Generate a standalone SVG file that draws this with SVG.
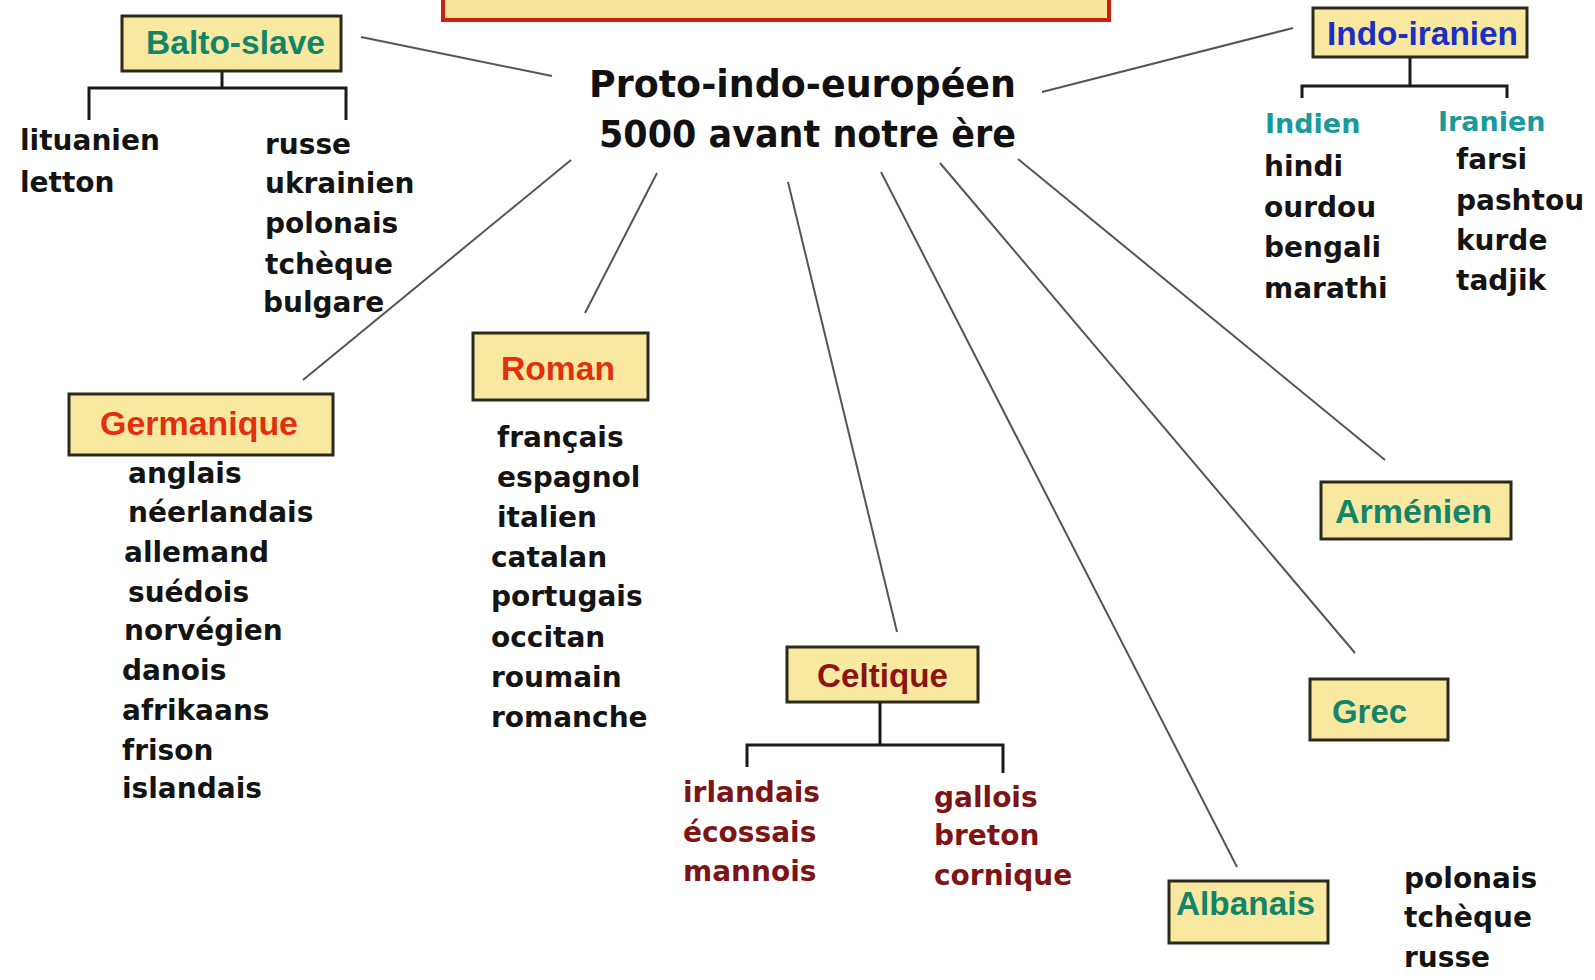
<svg xmlns="http://www.w3.org/2000/svg" width="1595" height="980" viewBox="0 0 1595 980">
<style>
.box{fill:#f8e8a0;stroke:#2b2a1c;stroke-width:3}
.lbl{font-family:"Liberation Sans",Arial,sans-serif;font-weight:bold;font-size:33px}
.teal{fill:#12846a}
.red{fill:#e2300e}
.dred{fill:#8a1414}
.blue{fill:#1b2fc4}
.item{font-family:"DejaVu Sans",Verdana,sans-serif;font-weight:bold;font-size:28px;fill:#141414}
.sub{font-family:"DejaVu Sans",Verdana,sans-serif;font-weight:bold;font-size:27px;fill:#1b9a9c}
.celt{fill:#7e1414}
.title{font-family:"DejaVu Sans",Verdana,sans-serif;font-weight:bold;font-size:37px;fill:#111}
.conn{stroke:#555;stroke-width:2;fill:none}
.br{stroke:#1a1a1a;stroke-width:3;fill:none}
</style>
<rect width="1595" height="980" fill="#fff"/>
<g id="title-box"><rect x="443" y="-10" width="666" height="30" fill="#f7e39a" stroke="#c9220c" stroke-width="4"/></g>
<g id="connectors">
<line class="conn" x1="361" y1="37" x2="552" y2="76"/>
<line class="conn" x1="1042" y1="92" x2="1293" y2="28"/>
<line class="conn" x1="571" y1="160" x2="303" y2="380"/>
<line class="conn" x1="657" y1="173" x2="585" y2="313"/>
<line class="conn" x1="788" y1="182" x2="897" y2="632"/>
<line class="conn" x1="881" y1="172" x2="1237" y2="867"/>
<line class="conn" x1="940" y1="163" x2="1355" y2="653"/>
<line class="conn" x1="1018" y1="159" x2="1385" y2="460"/>
<polyline class="br" points="222,71 222,88"/>
<polyline class="br" points="89,120 89,88 346,88 346,120"/>
<polyline class="br" points="1410,57 1410,86"/>
<polyline class="br" points="1302,98 1302,86 1507,86 1507,98"/>
<polyline class="br" points="880,702 880,745"/>
<polyline class="br" points="747,767 747,745 1003,745 1003,773"/>
</g>
<g id="root">
<text class="title" x="589" y="97" textLength="427" lengthAdjust="spacingAndGlyphs">Proto-indo-européen</text>
<text class="title" x="599" y="147" textLength="417" lengthAdjust="spacingAndGlyphs">5000 avant notre ère</text>
</g>
<g id="balto-slave">
<rect class="box" x="122" y="16" width="219" height="55"/>
<text class="lbl teal" x="146" y="54" textLength="179" lengthAdjust="spacingAndGlyphs">Balto-slave</text>
<text class="item" x="20" y="150">lituanien</text>
<text class="item" x="20" y="192">letton</text>
<text class="item" x="265" y="154">russe</text>
<text class="item" x="265" y="193">ukrainien</text>
<text class="item" x="265" y="233">polonais</text>
<text class="item" x="265" y="274">tchèque</text>
<text class="item" x="263" y="312">bulgare</text>
</g>
<g id="indo-iranien">
<rect class="box" x="1313" y="8" width="214" height="49"/>
<text class="lbl blue" x="1327" y="45" textLength="191" lengthAdjust="spacingAndGlyphs">Indo-iranien</text>
<text class="sub" x="1265" y="133">Indien</text>
<text class="sub" x="1438" y="131">Iranien</text>
<text class="item" x="1264" y="176">hindi</text>
<text class="item" x="1264" y="217">ourdou</text>
<text class="item" x="1264" y="257">bengali</text>
<text class="item" x="1264" y="298">marathi</text>
<text class="item" x="1456" y="169">farsi</text>
<text class="item" x="1456" y="210">pashtou</text>
<text class="item" x="1456" y="250">kurde</text>
<text class="item" x="1456" y="290">tadjik</text>
</g>
<g id="germanique">
<rect class="box" x="69" y="394" width="264" height="61"/>
<text class="lbl red" x="100" y="435" textLength="198" lengthAdjust="spacingAndGlyphs">Germanique</text>
<text class="item" x="128" y="483">anglais</text>
<text class="item" x="128" y="522">néerlandais</text>
<text class="item" x="124" y="562">allemand</text>
<text class="item" x="128" y="602">suédois</text>
<text class="item" x="124" y="640">norvégien</text>
<text class="item" x="122" y="680">danois</text>
<text class="item" x="122" y="720">afrikaans</text>
<text class="item" x="122" y="760">frison</text>
<text class="item" x="122" y="798">islandais</text>
</g>
<g id="roman">
<rect class="box" x="473" y="333" width="175" height="67"/>
<text class="lbl red" x="501" y="380" textLength="114" lengthAdjust="spacingAndGlyphs">Roman</text>
<text class="item" x="497" y="447">français</text>
<text class="item" x="497" y="487">espagnol</text>
<text class="item" x="497" y="527">italien</text>
<text class="item" x="491" y="567">catalan</text>
<text class="item" x="491" y="606">portugais</text>
<text class="item" x="491" y="647">occitan</text>
<text class="item" x="491" y="687">roumain</text>
<text class="item" x="491" y="727">romanche</text>
</g>
<g id="celtique">
<rect class="box" x="787" y="647" width="191" height="55"/>
<text class="lbl dred" x="817" y="687" textLength="131" lengthAdjust="spacingAndGlyphs">Celtique</text>
<text class="item celt" x="683" y="802">irlandais</text>
<text class="item celt" x="683" y="842">écossais</text>
<text class="item celt" x="683" y="881">mannois</text>
<text class="item celt" x="934" y="807">gallois</text>
<text class="item celt" x="934" y="845">breton</text>
<text class="item celt" x="934" y="885">cornique</text>
</g>
<g id="armenien">
<rect class="box" x="1321" y="482" width="190" height="57"/>
<text class="lbl teal" x="1335" y="523" textLength="157" lengthAdjust="spacingAndGlyphs">Arménien</text>
</g>
<g id="grec">
<rect class="box" x="1310" y="679" width="138" height="61"/>
<text class="lbl teal" x="1332" y="723" textLength="75" lengthAdjust="spacingAndGlyphs">Grec</text>
</g>
<g id="albanais">
<rect class="box" x="1169" y="881" width="159" height="62"/>
<text class="lbl teal" x="1176" y="915" textLength="139" lengthAdjust="spacingAndGlyphs">Albanais</text>
<text class="item" x="1404" y="888">polonais</text>
<text class="item" x="1404" y="927">tchèque</text>
<text class="item" x="1404" y="967">russe</text>
</g>
</svg>
